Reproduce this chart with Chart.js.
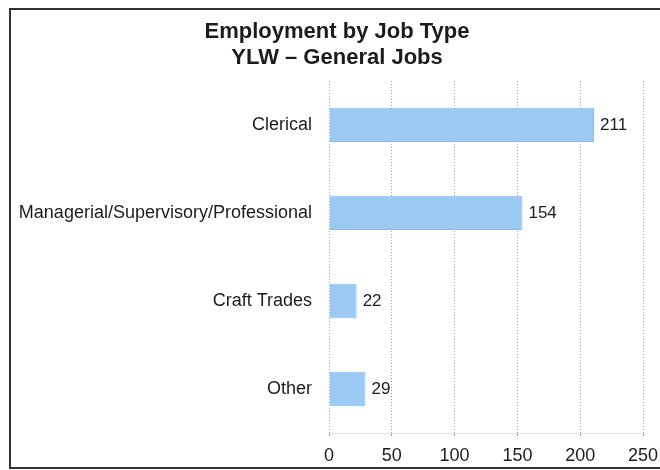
<!DOCTYPE html>
<html>
<head>
<meta charset="utf-8">
<script src="https://cdn.jsdelivr.net/npm/chart.js@4"></script>
<style>
  html, body { margin: 0; padding: 0; background: #fff; }
  #wrap { position: relative; width: 660px; height: 470px; }
</style>
</head>
<body>
<div id="wrap"><canvas id="chart" width="660" height="470"></canvas></div>
<script>
// job categories and headcounts
const jobTypes = ['Clerical', 'Managerial/Supervisory/Professional', 'Craft Trades', 'Other'];
const jobCounts = [211, 154, 22, 29];
const axisTicks = [0, 50, 100, 150, 200, 250];
const titleLines = ['Employment by Job Type', 'YLW \u2013 General Jobs'];

const FONT = "'Liberation Sans', Arial, sans-serif";
const INK = '#1c1c1c';

// frame around the whole graphic
const framePlugin = {
  id: 'frame',
  beforeDraw(chart) {
    const c = chart.ctx;
    c.save();
    c.fillStyle = '#fff';
    c.fillRect(0, 0, chart.width, chart.height);
    c.strokeStyle = '#333';
    c.lineWidth = 2;
    c.strokeRect(10, 9, chart.width + 10, 459);
    c.restore();
  }
};

// value printed just past the end of each bar
const valueLabels = {
  id: 'valueLabels',
  afterDatasetsDraw(chart) {
    const c = chart.ctx;
    const meta = chart.getDatasetMeta(0);
    c.save();
    c.font = '17px ' + FONT;
    c.fillStyle = INK;
    c.textBaseline = 'middle';
    meta.data.forEach((bar, i) => {
      c.fillText(String(jobCounts[i]), bar.x + 6, bar.y);
    });
    c.restore();
  }
};

const ctx = document.getElementById('chart').getContext('2d');
const myChart = new Chart(ctx, {
  type: 'bar',
  data: {
    labels: jobTypes,
    datasets: [{
      data: jobCounts,
      backgroundColor: '#9ccaf4',
      borderColor: '#86bcee',
      borderWidth: 1,
      categoryPercentage: 1,
      barPercentage: 0.39
    }]
  },
  options: {
    indexAxis: 'y',
    responsive: false,
    animation: false,
    layout: { padding: { left: 17, right: 3, top: 19, bottom: 2 } },
    plugins: {
      legend: { display: false },
      tooltip: { enabled: false },
      title: {
        display: true,
        text: titleLines,
        color: INK,
        font: { family: FONT, size: 22, weight: 'bold', lineHeight: 1.18 },
        padding: { top: 0, bottom: 10 }
      }
    },
    scales: {
      x: {
        min: axisTicks[0],
        max: axisTicks[axisTicks.length - 1],
        afterBuildTicks(scale) {
          scale.ticks = axisTicks.map(v => ({ value: v }));
        },
        afterFit(scale) {
          scale.height = 35;
          scale.paddingLeft = 0;
          scale.paddingRight = 17;
        },
        grid: {
          color: '#9a9a9a',
          drawTicks: true,
          tickLength: 3
        },
        border: { display: true, color: '#e2e2e2', dash: [1, 2] },
        ticks: {
          color: INK,
          font: { family: FONT, size: 18 },
          padding: 9,
          maxRotation: 0
        }
      },
      y: {
        afterFit(scale) { scale.width = 312; },
        grid: { display: false, drawTicks: false },
        border: { display: false },
        ticks: {
          color: INK,
          font: { family: FONT, size: 18 },
          padding: 17
        }
      }
    }
  },
  plugins: [framePlugin, valueLabels]
});
</script>
</body>
</html>
